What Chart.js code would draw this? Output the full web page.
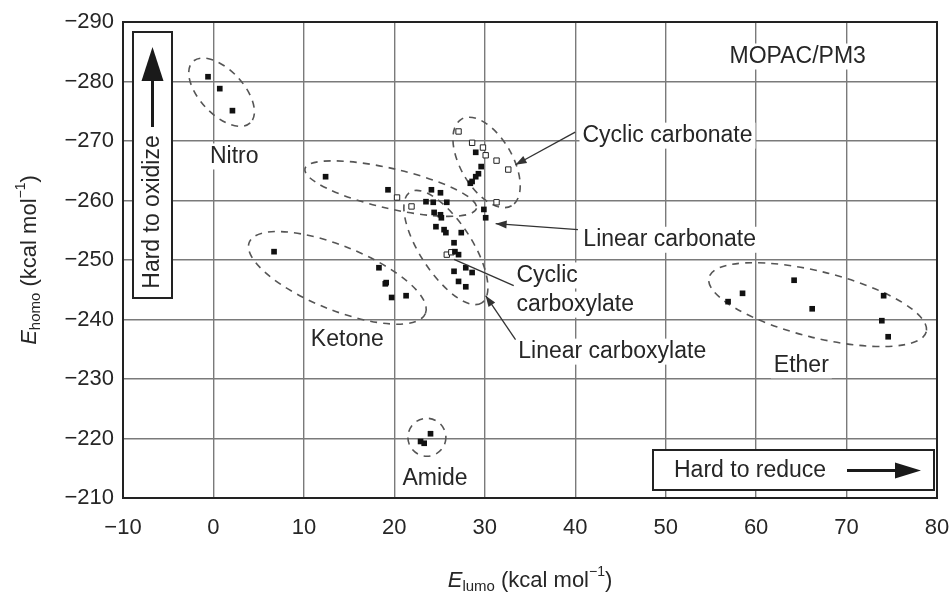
<!DOCTYPE html>
<html lang="en">
<head>
<meta charset="UTF-8">
<title>E_lumo vs E_homo (MOPAC/PM3)</title>
<script src="https://cdn.jsdelivr.net/npm/chart.js"></script>
<style>
  body { margin: 0; background: #fff; }
  #wrap { width: 949px; height: 596px; }
</style>
</head>
<body>
<div id="wrap"><canvas id="orbitalChart"></canvas></div>
<script>
// values, kcal/mol
const xTicks = [-10, 0, 10, 20, 30, 40, 50, 60, 70, 80];
const yTicks = [-290, -280, -270, -260, -250, -240, -230, -220, -210];

const nitroLumo = [-0.6, 0.7, 2.1];
const nitroHomo = [-280.8, -278.8, -275.1];

const ketoneLumo = [6.7, 18.3, 19.0, 19.1, 19.7, 21.3];
const ketoneHomo = [-251.4, -248.7, -246.0, -246.2, -243.7, -244.0];

// carbonates / carboxylates, solid markers
const esterLumo = [12.4, 19.3, 29.0, 29.6, 29.3, 29.0, 28.6, 28.4, 24.1, 25.1, 23.5, 24.3, 25.8, 29.9, 30.1,
                   24.4, 25.1, 25.2, 24.6, 25.5, 25.7, 27.4, 26.6, 26.7, 27.1, 27.9, 28.6, 26.6, 27.1, 27.9];
const esterHomo = [-264.0, -261.8, -268.1, -265.7, -264.5, -264.0, -263.2, -262.9, -261.8, -261.3, -259.8, -259.7, -259.7, -258.5, -257.1,
                   -258.0, -257.6, -257.1, -255.6, -255.1, -254.6, -254.6, -252.9, -251.4, -250.9, -248.7, -247.9, -248.1, -246.4, -245.5];

// open markers
const cyclicLumo = [27.1, 28.6, 29.8, 30.1, 31.3, 32.6, 31.3, 20.3, 21.9, 25.8, 26.3];
const cyclicHomo = [-271.6, -269.7, -268.9, -267.6, -266.7, -265.2, -259.7, -260.5, -259.0, -250.9, -251.3];

const etherLumo = [64.2, 58.5, 56.9, 66.2, 74.1, 73.9, 74.6];
const etherHomo = [-246.6, -244.4, -243.0, -241.8, -244.0, -239.8, -237.1];

const amideLumo = [24.0, 22.9, 23.3];
const amideHomo = [-220.8, -219.5, -219.2];

// dashed outlines round the groups: centre in data units, radii px, tilt deg
const outlines = [
  { x: 0.9, y: -278.2, rx: 42, ry: 22, tilt: 47 },
  { x: 13.7, y: -247.0, rx: 95, ry: 32, tilt: 22 },
  { x: 19.6, y: -262.0, rx: 88, ry: 20, tilt: 13 },
  { x: 30.2, y: -266.4, rx: 50, ry: 26, tilt: 60 },
  { x: 25.7, y: -252.1, rx: 66, ry: 26, tilt: 57 },
  { x: 66.8, y: -242.5, rx: 112, ry: 33, tilt: 14 },
  { x: 23.6, y: -220.2, rx: 19, ry: 19, tilt: 0 }
];

const groupLabels = [
  { text: 'Nitro', x: 2.3, y: -267.4, align: 'center' },
  { text: 'Ketone', x: 14.8, y: -236.6, align: 'center' },
  { text: 'Amide', x: 24.5, y: -213.3, align: 'center' },
  { text: 'Ether', x: 65.0, y: -232.3, align: 'center' },
  { text: 'MOPAC/PM3', x: 64.6, y: -284.2, align: 'center' },
  { text: 'Cyclic carbonate', x: 40.8, y: -270.9, align: 'left' },
  { text: 'Linear carbonate', x: 40.9, y: -253.4, align: 'left' },
  { text: 'Cyclic', x: 33.5, y: -247.4, align: 'left' },
  { text: 'carboxylate', x: 33.5, y: -242.5, align: 'left' },
  { text: 'Linear carboxylate', x: 33.7, y: -234.6, align: 'left' }
];

const pointers = [
  { from: [40.0, -271.5], to: [33.4, -266.0], head: true },
  { from: [40.3, -255.1], to: [31.2, -256.1], head: true },
  { from: [33.2, -245.7], to: [26.6, -250.1], head: false },
  { from: [33.4, -236.6], to: [30.1, -244.0], head: true }
];

const FONT = "'Liberation Sans', Arial, sans-serif";
const INK = '#262626';

function arrowHead(ctx, x1, y1, x2, y2, len, half) {
  const a = Math.atan2(y2 - y1, x2 - x1);
  ctx.beginPath();
  ctx.moveTo(x2, y2);
  ctx.lineTo(x2 - len * Math.cos(a) + half * Math.sin(a), y2 - len * Math.sin(a) - half * Math.cos(a));
  ctx.lineTo(x2 - len * Math.cos(a) - half * Math.sin(a), y2 - len * Math.sin(a) + half * Math.cos(a));
  ctx.closePath();
  ctx.fill();
}

// E with subscript, then unit with superscript -1
function richTitle(ctx, sub, cx, cy) {
  const parts = [
    { t: 'E', f: 'italic 22px ' + FONT, dy: 0 },
    { t: sub, f: '15px ' + FONT, dy: 6 },
    { t: ' (kcal mol', f: '22px ' + FONT, dy: 0 },
    { t: '\u22121', f: '14px ' + FONT, dy: -9 },
    { t: ')', f: '22px ' + FONT, dy: 0 }
  ];
  let w = 0;
  parts.forEach(p => { ctx.font = p.f; p.w = ctx.measureText(p.t).width; w += p.w; });
  let x = cx - w / 2;
  ctx.textAlign = 'left';
  ctx.textBaseline = 'middle';
  parts.forEach(p => { ctx.font = p.f; ctx.fillText(p.t, x, cy + p.dy); x += p.w; });
}

const extras = {
  id: 'extras',
  beforeDatasetsDraw(chart) {
    const { ctx, scales: { x, y } } = chart;
    ctx.save();
    ctx.strokeStyle = '#555';
    ctx.lineWidth = 1.6;
    ctx.setLineDash([7, 6]);
    outlines.forEach(o => {
      ctx.beginPath();
      ctx.ellipse(x.getPixelForValue(o.x), y.getPixelForValue(o.y), o.rx, o.ry, o.tilt * Math.PI / 180, 0, Math.PI * 2);
      ctx.stroke();
    });
    ctx.restore();
  },
  afterDatasetsDraw(chart) {
    const { ctx, chartArea: ca, scales: { x, y } } = chart;
    ctx.save();
    ctx.font = '23px ' + FONT;
    ctx.textBaseline = 'middle';
    groupLabels.forEach(l => {
      const px = x.getPixelForValue(l.x), py = y.getPixelForValue(l.y);
      const w = ctx.measureText(l.text).width;
      const left = l.align === 'center' ? px - w / 2 : px;
      ctx.fillStyle = '#fff';
      ctx.fillRect(left - 3, py - 13, w + 6, 26);
      ctx.fillStyle = INK;
      ctx.textAlign = 'left';
      ctx.fillText(l.text, left, py);
    });

    ctx.strokeStyle = '#333';
    ctx.fillStyle = '#333';
    ctx.lineWidth = 1.3;
    pointers.forEach(p => {
      const x1 = x.getPixelForValue(p.from[0]), y1 = y.getPixelForValue(p.from[1]);
      const x2 = x.getPixelForValue(p.to[0]), y2 = y.getPixelForValue(p.to[1]);
      ctx.beginPath();
      ctx.moveTo(x1, y1);
      ctx.lineTo(x2, y2);
      ctx.stroke();
      if (p.head) arrowHead(ctx, x1, y1, x2, y2, 11, 4);
    });

    // "Hard to oxidize" box
    const bx = ca.left + 10, by = ca.top + 10;
    ctx.fillStyle = '#fff';
    ctx.fillRect(bx, by, 39, 266);
    ctx.strokeStyle = '#222';
    ctx.lineWidth = 2;
    ctx.strokeRect(bx, by, 39, 266);
    ctx.fillStyle = '#1a1a1a';
    ctx.fillRect(bx + 18, by + 45, 3, 50);
    arrowHead(ctx, bx + 19.5, by + 90, bx + 19.5, by + 15, 34, 11);
    ctx.save();
    ctx.translate(bx + 20, by + 180);
    ctx.rotate(-Math.PI / 2);
    ctx.font = '23px ' + FONT;
    ctx.fillStyle = INK;
    ctx.textAlign = 'center';
    ctx.textBaseline = 'middle';
    ctx.fillText('Hard to oxidize', 0, 0);
    ctx.restore();

    // "Hard to reduce" box
    const rx = ca.right - 284, ry = ca.bottom - 48;
    ctx.fillStyle = '#fff';
    ctx.fillRect(rx, ry, 281, 40);
    ctx.strokeStyle = '#222';
    ctx.lineWidth = 2;
    ctx.strokeRect(rx, ry, 281, 40);
    ctx.font = '23px ' + FONT;
    ctx.fillStyle = INK;
    ctx.textAlign = 'left';
    ctx.textBaseline = 'middle';
    ctx.fillText('Hard to reduce', rx + 21, ry + 21);
    ctx.fillStyle = '#1a1a1a';
    ctx.fillRect(rx + 194, ry + 19, 50, 3);
    arrowHead(ctx, rx + 200, ry + 20.5, rx + 268, ry + 20.5, 26, 8);

    // frame
    ctx.strokeStyle = '#222';
    ctx.lineWidth = 2;
    ctx.strokeRect(ca.left, ca.top, ca.right - ca.left, ca.bottom - ca.top);

    // axis titles
    ctx.fillStyle = INK;
    richTitle(ctx, 'lumo', (ca.left + ca.right) / 2, 581);
    ctx.save();
    ctx.translate(30, (ca.top + ca.bottom) / 2);
    ctx.rotate(-Math.PI / 2);
    richTitle(ctx, 'homo', 0, 0);
    ctx.restore();
    ctx.restore();
  }
};

const solid = { pointStyle: 'rect', radius: 4, backgroundColor: '#111', borderColor: '#111', borderWidth: 0 };
const toPts = (xs, ys) => xs.map((v, i) => ({ x: v, y: ys[i] }));
const minus = v => String(v).replace('-', '\u2212');

new Chart(document.getElementById('orbitalChart'), {
  type: 'scatter',
  data: {
    datasets: [
      { label: 'Nitro', data: toPts(nitroLumo, nitroHomo), ...solid },
      { label: 'Ketone', data: toPts(ketoneLumo, ketoneHomo), ...solid },
      { label: 'Carbonate / carboxylate', data: toPts(esterLumo, esterHomo), ...solid },
      { label: 'Cyclic', data: toPts(cyclicLumo, cyclicHomo), pointStyle: 'rect', radius: 3.8,
        backgroundColor: '#fff', borderColor: '#222', borderWidth: 1 },
      { label: 'Ether', data: toPts(etherLumo, etherHomo), ...solid },
      { label: 'Amide', data: toPts(amideLumo, amideHomo), ...solid }
    ]
  },
  options: {
    responsive: true,
    maintainAspectRatio: false,
    animation: false,
    layout: { padding: { left: 0, top: 22, right: 12, bottom: 0 } },
    plugins: { legend: { display: false }, tooltip: { enabled: false } },
    scales: {
      x: {
        type: 'linear',
        min: -10, max: 80,
        afterBuildTicks: s => { s.ticks = xTicks.map(v => ({ value: v })); },
        afterFit: s => { s.height = 98; s.paddingLeft = 0; s.paddingRight = 0; },
        grid: { color: '#7a7a7a', lineWidth: 1.4, drawTicks: false },
        border: { display: false },
        ticks: { padding: 17, color: INK, font: { family: FONT, size: 22 }, callback: minus }
      },
      y: {
        type: 'linear',
        reverse: true,
        min: -290, max: -210,
        afterBuildTicks: s => { s.ticks = yTicks.map(v => ({ value: v })); },
        afterFit: s => { s.width = 123; s.paddingTop = 0; s.paddingBottom = 0; },
        grid: { color: '#7a7a7a', lineWidth: 1.4, drawTicks: false },
        border: { display: false },
        ticks: { padding: 9, color: INK, font: { family: FONT, size: 22 }, callback: minus }
      }
    }
  },
  plugins: [extras]
});
</script>
</body>
</html>
